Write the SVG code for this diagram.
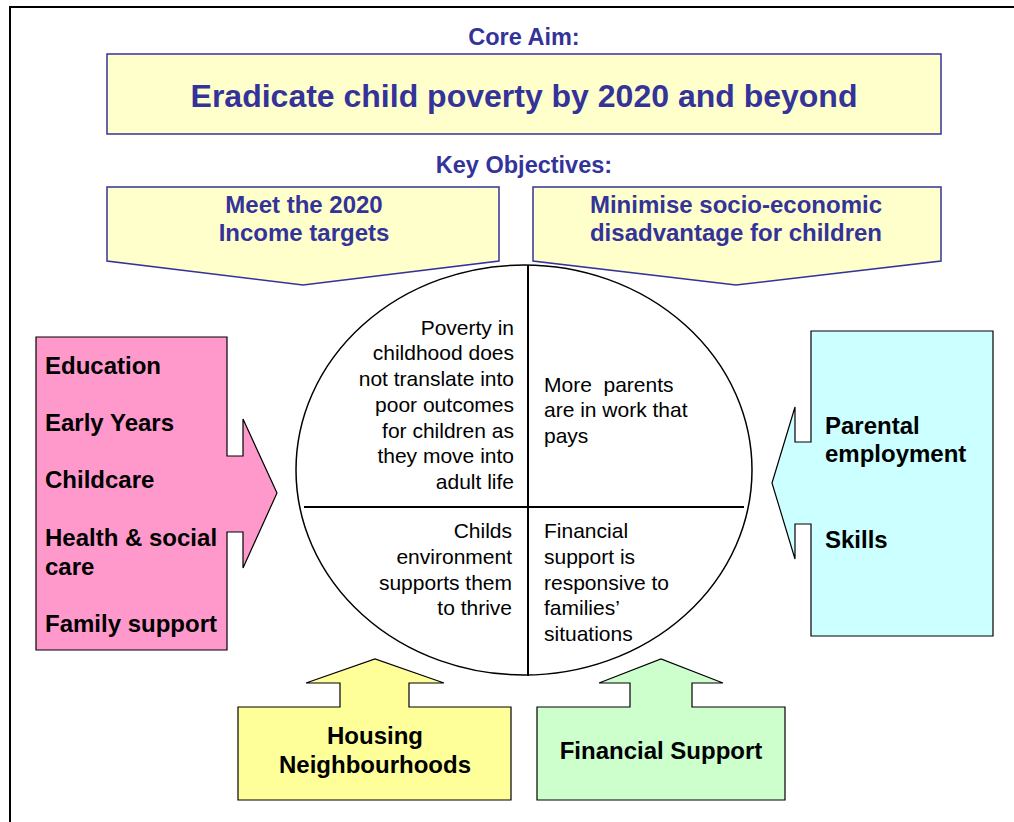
<svg xmlns="http://www.w3.org/2000/svg" width="1014" height="822" viewBox="0 0 1014 822">
<style>
.blue{font-family:"Liberation Sans",Arial,sans-serif;font-weight:bold;fill:#333399;text-anchor:middle}
.lab{font-family:"Liberation Sans",Arial,sans-serif;font-weight:bold;fill:#000;font-size:24px}
.cir{font-family:"Liberation Sans",Arial,sans-serif;fill:#000;font-size:21px}
.obj{fill:#FFFFCC;stroke:#333399;stroke-width:1.5}
.box{stroke:#000;stroke-width:1.2}
</style>
<rect x="10" y="7" width="1020" height="830" fill="#fff" stroke="#000" stroke-width="2"/>
<g id="core-aim">
<text class="blue" x="524" y="45" font-size="23.5">Core Aim:</text>
<rect class="obj" x="107" y="54" width="834" height="80"/>
<text class="blue" x="524" y="107" font-size="32">Eradicate child poverty by 2020 and beyond</text>
</g>
<g id="key-objectives">
<text class="blue" x="524" y="173" font-size="23.5">Key Objectives:</text>
</g>
<g id="obj-income">
<path class="obj" d="M107,187 H499 V261 L303,285 L107,261 Z"/>
<text class="blue" font-size="24"><tspan x="304" y="213">Meet the 2020</tspan><tspan x="304" y="241">Income targets</tspan></text>
</g>
<g id="obj-disadvantage">
<path class="obj" d="M533,187 H941 V261 L736,285 L533,261 Z"/>
<text class="blue" font-size="24"><tspan x="736" y="213">Minimise socio-economic</tspan><tspan x="736" y="241">disadvantage for children</tspan></text>
</g>
<g id="circle">
<ellipse cx="524" cy="470" rx="228" ry="205" fill="#fff" stroke="#000" stroke-width="1.5"/>
<line x1="528" y1="265" x2="528" y2="676" stroke="#000" stroke-width="2"/>
<line x1="304" y1="507" x2="744" y2="507" stroke="#000" stroke-width="2"/>
<text class="cir" text-anchor="end"><tspan x="514" y="335">Poverty in</tspan><tspan x="514" y="360">childhood does</tspan><tspan x="514" y="386">not translate into</tspan><tspan x="514" y="412">poor outcomes</tspan><tspan x="514" y="438">for children as</tspan><tspan x="514" y="463">they move into</tspan><tspan x="514" y="489">adult life</tspan></text>
<text class="cir" xml:space="preserve"><tspan x="544" y="392">More  parents</tspan><tspan x="544" y="417">are in work that</tspan><tspan x="544" y="443">pays</tspan></text>
<text class="cir" text-anchor="end"><tspan x="512" y="538">Childs</tspan><tspan x="512" y="564">environment</tspan><tspan x="512" y="590">supports them</tspan><tspan x="512" y="615">to thrive</tspan></text>
<text class="cir"><tspan x="544" y="538">Financial</tspan><tspan x="544" y="564">support is</tspan><tspan x="544" y="590">responsive to</tspan><tspan x="544" y="615">families’</tspan><tspan x="544" y="641">situations</tspan></text>
</g>
<g id="education">
<path class="box" fill="#FF99CC" d="M36,337 H227 V456 H243 V419 L277,493 L243,568 V532 H227 V650 H36 Z"/>
<text class="lab"><tspan x="45" y="374">Education</tspan><tspan x="45" y="431">Early Years</tspan><tspan x="45" y="488">Childcare</tspan><tspan x="45" y="546">Health &amp; social</tspan><tspan x="45" y="575">care</tspan><tspan x="45" y="632">Family support</tspan></text>
</g>
<g id="employment">
<path class="box" fill="#CCFFFF" d="M993,331 H811 V442 H795 V407 L772,483 L795,559 V524 H811 V636 H993 Z"/>
<text class="lab"><tspan x="825" y="434">Parental</tspan><tspan x="825" y="462">employment</tspan><tspan x="825" y="548">Skills</tspan></text>
</g>
<g id="housing">
<path class="box" fill="#FFFF99" d="M238,707 H340 V683 H306 L375,659 L444,683 H409 V707 H511 V800 H238 Z"/>
<text class="lab" text-anchor="middle"><tspan x="375" y="744">Housing</tspan><tspan x="375" y="773">Neighbourhoods</tspan></text>
</g>
<g id="financial">
<path class="box" fill="#CCFFCC" d="M537,707 H630 V683 H599 L661,659 L723,683 H692 V707 H785 V800 H537 Z"/>
<text class="lab" text-anchor="middle" x="661" y="759">Financial Support</text>
</g>
<g id="connectors"/>
</svg>
